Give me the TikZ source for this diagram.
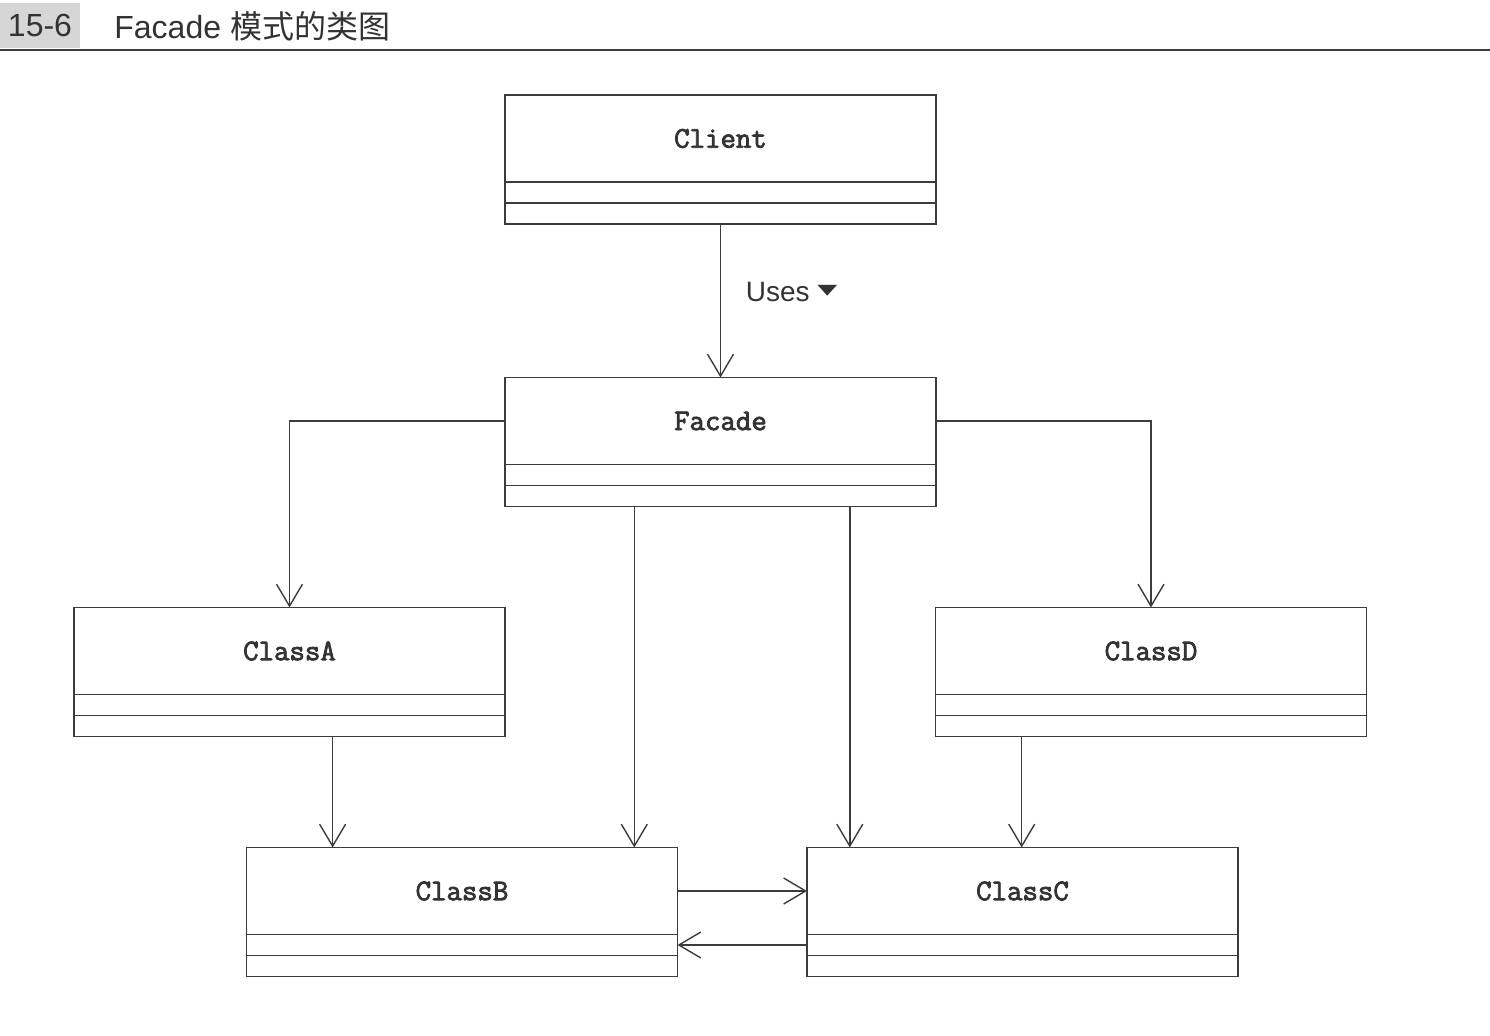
\documentclass[tikz,border=0pt]{standalone}
\usepackage{fontspec}
\setmainfont{Liberation Sans}
\newfontfamily\cjkfont{Noto Sans CJK SC}
\newfontfamily\symfont{DejaVu Sans}
\newfontfamily\classfont[FakeBold=2.6]{Latin Modern Mono}
\usetikzlibrary{positioning,arrows.meta,calc}
\definecolor{umlline}{HTML}{3C3C3C}
\definecolor{umltext}{HTML}{333333}
\definecolor{tagfill}{HTML}{D6D6D6}
\tikzset{
  namebox/.style={draw=umlline, line width=0.7pt, outer sep=0pt, inner sep=0pt,
              minimum width=215.5pt, minimum height=43.5pt,
              font=\fontsize{15}{17}\classfont, text=umltext},
  compbox/.style={draw=umlline, line width=0.7pt, outer sep=0pt, inner sep=0pt,
              minimum width=215.5pt, minimum height=10.5pt},
  uses/.style={-{Straight Barb[length=11pt,width=13pt]}, draw=umlline,
              line width=0.7pt},
}

\begin{document}
\begin{tikzpicture}[x=0.5pt, y=-0.5pt]
\useasboundingbox (0,0) rectangle (1490,1036);
% title bar
\node[fill=tagfill, inner sep=0pt, minimum width=40pt, minimum height=22.5pt,
  font=\fontsize{16}{18}\selectfont, text=umltext] (tag) at (40,25.5) {15-6};
\node[anchor=west, inner sep=0pt, font=\fontsize{16}{18}\selectfont,
  text=umltext] (title) at (114,26) {Facade {\cjkfont 模式的类图}};
\draw[umlline, line width=0.9pt] (0,50) -- (1490,50);

% classes: name, attributes, operations
\foreach \n/\t/\x/\y in {client/Client/720.5/138.5, facade/Facade/720.5/421,
    classa/ClassA/289.5/651, classd/ClassD/1151/651,
    classb/ClassB/462/891, classc/ClassC/1022.5/891} {
  \node[namebox] (\n) at (\x,\y) {\t};
  \node[compbox, below=0pt of \n] (\n-a) {};
  \node[compbox, below=0pt of \n-a] (\n-m) {};
}

% associations
\draw[uses] (client-m.south) -- node[right=9pt, pos=0.44,
  font=\fontsize{14}{16}\selectfont, text=umltext] (useslbl)
  {Uses \raisebox{0.22em}{\scalebox{1}[0.55]{\symfont\fontsize{13}{13}\selectfont ▼}}}
  (facade.north);
\draw[uses] (facade.west) -| (classa.north);
\draw[uses] (facade.east) -| (classd.north);
\coordinate (fb1) at ($(facade-m.south west)!0.3!(facade-m.south east)$);
\coordinate (fb2) at ($(facade-m.south west)!0.8!(facade-m.south east)$);
\draw[uses] (fb1) -- (fb1 |- classb.north);
\draw[uses] (fb2) -- (fb2 |- classc.north);
\coordinate (ab) at ($(classa-m.south west)!0.6!(classa-m.south east)$);
\draw[uses] (ab) -- (ab |- classb.north);
\coordinate (dc) at ($(classd-m.south west)!0.2!(classd-m.south east)$);
\draw[uses] (dc) -- (dc |- classc.north);
\draw[uses] (classb.east) -- (classc.west);
\draw[uses] (classc-a.west) -- (classb-a.east);
\end{tikzpicture}
\end{document}
